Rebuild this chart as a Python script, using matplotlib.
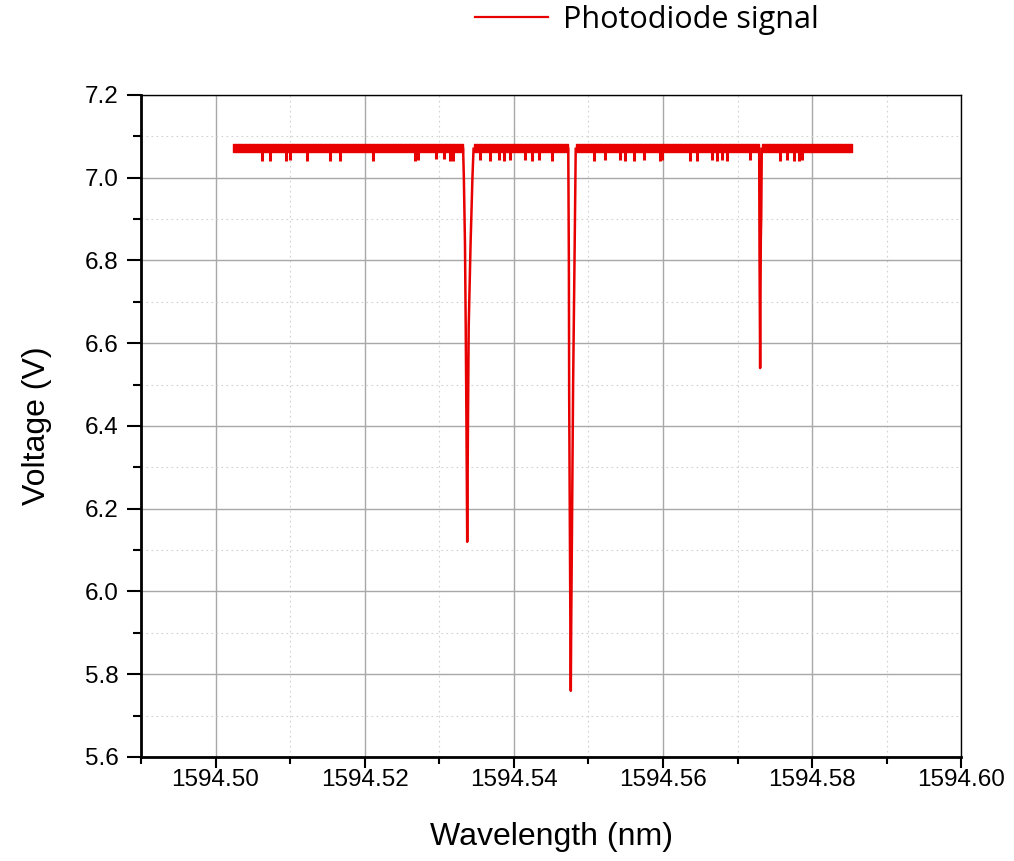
import matplotlib
matplotlib.use("Agg")
import matplotlib.pyplot as plt
from matplotlib.ticker import MultipleLocator, FormatStrFormatter
from matplotlib.lines import Line2D

# ---------------- data ----------------
# baseline noise band of the photodiode trace
band_start = [1594.50228, 1594.53460, 1594.54830, 1594.57325]
band_end = [1594.53320, 1594.54730, 1594.57290, 1594.58530]
band_low = 7.061
band_high = 7.081

# small single-sample drops in the baseline
small_dip_wl = [1594.50629, 1594.50736, 1594.50950, 1594.51004, 1594.51232,
                1594.51539, 1594.51673, 1594.52115, 1594.52677, 1594.52718,
                1594.52958, 1594.53066, 1594.53146, 1594.53186, 1594.53548,
                1594.53681, 1594.53802, 1594.53869, 1594.53949, 1594.54150,
                1594.54244, 1594.54337, 1594.54511, 1594.55074, 1594.55221,
                1594.55422, 1594.55489, 1594.55609, 1594.55743, 1594.55957,
                1594.55984, 1594.56359, 1594.56452, 1594.56653, 1594.56720,
                1594.56787, 1594.56854, 1594.57162, 1594.57564, 1594.57657,
                1594.57751, 1594.57818, 1594.57858]
small_dip_v = [7.040, 7.040, 7.040, 7.042, 7.040,
               7.040, 7.040, 7.040, 7.040, 7.042,
               7.045, 7.045, 7.040, 7.040, 7.042,
               7.040, 7.042, 7.040, 7.042, 7.042,
               7.040, 7.042, 7.040, 7.040, 7.042,
               7.042, 7.040, 7.040, 7.042, 7.040,
               7.042, 7.040, 7.040, 7.042, 7.040,
               7.042, 7.040, 7.042, 7.040, 7.042,
               7.040, 7.040, 7.042]

# absorption dip 1
dip1_wl = [1594.53320, 1594.53330, 1594.53345, 1594.53355, 1594.53365, 1594.53370,
           1594.53375, 1594.53380, 1594.53385, 1594.53395, 1594.53420, 1594.53445,
           1594.53460]
dip1_v = [7.07, 7.00, 6.84, 6.64, 6.40, 6.26, 6.12, 6.26, 6.40, 6.64, 6.84, 7.00, 7.07]

# absorption dip 2
dip2_wl = [1594.54730, 1594.54738, 1594.54742, 1594.54750, 1594.54758, 1594.54764,
           1594.54770, 1594.54780, 1594.54795, 1594.54815, 1594.54830]
dip2_v = [7.07, 6.80, 6.48, 6.20, 5.93, 5.76, 5.93, 6.15, 6.50, 6.82, 7.07]

# absorption dip 3
dip3_wl = [1594.57290, 1594.57295, 1594.57300, 1594.57303, 1594.57306, 1594.57312,
           1594.57318, 1594.57325]
dip3_v = [7.07, 6.80, 6.64, 6.54, 6.66, 6.85, 6.91, 7.07]

x_label = "Wavelength (nm)"
y_label = "Voltage (V)"
legend_label = "Photodiode signal"

# ---------------- figure ----------------
RED = "#e80000"
fig = plt.figure(figsize=(10.14, 8.61), dpi=100)
ax = fig.add_axes([0.139, 0.1208, 0.809, 0.7689])

for s, e in zip(band_start, band_end):
    ax.fill_between([s, e], [band_low, band_low], [band_high, band_high],
                    color=RED, linewidth=1.0, edgecolor=RED, zorder=3)

ax.vlines(small_dip_wl, small_dip_v, [band_low] * len(small_dip_wl),
          color=RED, linewidth=2.2, zorder=3)

for wl, v in ((dip1_wl, dip1_v), (dip2_wl, dip2_v), (dip3_wl, dip3_v)):
    ax.plot(wl, v, color=RED, linewidth=1.8, zorder=3)

ax.set_xlim(1594.49, 1594.60)
ax.set_ylim(5.6, 7.2)

ax.xaxis.set_major_locator(MultipleLocator(0.02))
ax.xaxis.set_minor_locator(MultipleLocator(0.01))
ax.yaxis.set_major_locator(MultipleLocator(0.2))
ax.yaxis.set_minor_locator(MultipleLocator(0.1))
ax.xaxis.set_major_formatter(FormatStrFormatter("%.2f"))
ax.yaxis.set_major_formatter(FormatStrFormatter("%.1f"))

ax.grid(which="major", color="#a8a8a8", linewidth=1.0, linestyle="-", zorder=0)
ax.grid(which="minor", color="#d0d0d0", linewidth=0.8, linestyle=(0, (1.5, 3)), zorder=0)
ax.set_axisbelow(True)

for side in ("left", "bottom"):
    ax.spines[side].set_linewidth(2.0)
for side in ("top", "right"):
    ax.spines[side].set_linewidth(1.0)

ax.tick_params(which="major", direction="out", length=10, width=1.5,
               labelsize=17.5, top=False, right=False)
ax.tick_params(which="minor", direction="out", length=6, width=1.5,
               top=False, right=False)
ax.tick_params(axis="x", which="major", length=8, pad=1)
ax.tick_params(axis="x", which="minor", length=5)
ax.tick_params(axis="y", which="major", pad=6)
for lab in ax.get_xticklabels() + ax.get_yticklabels():
    lab.set_fontfamily("Liberation Sans")

ax.set_xlabel(x_label, fontsize=23, family="Liberation Sans", labelpad=22)
ax.set_ylabel(y_label, fontsize=23, family="Liberation Sans", labelpad=24)

handle = Line2D([], [], color=RED, linewidth=1.6)
fig.legend([handle], [legend_label], loc="center", bbox_to_anchor=(0.638, 0.977),
           frameon=False, prop={"family": "Open Sans", "size": 22},
           handlelength=2.4, handletextpad=0.5)

fig.savefig("out.png", dpi=100)
